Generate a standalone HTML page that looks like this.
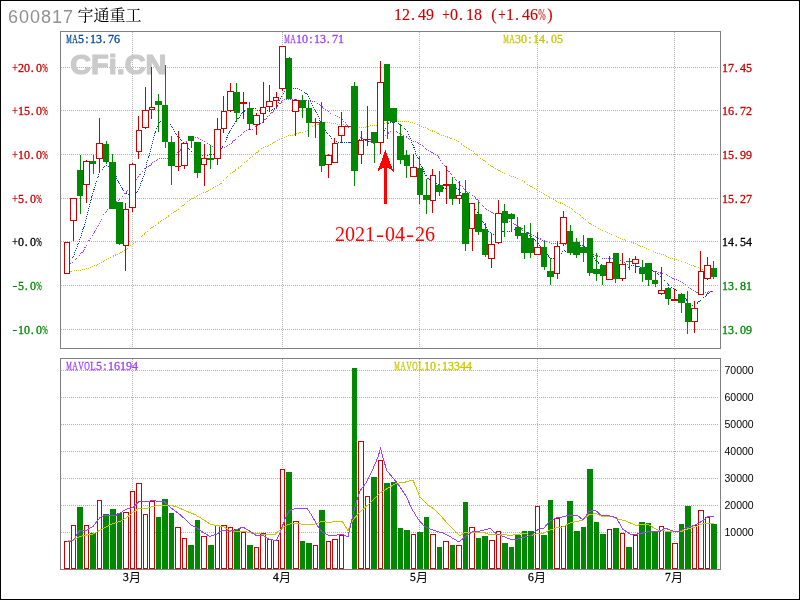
<!DOCTYPE html>
<html><head><meta charset="utf-8"><title>600817 宇通重工</title>
<style>
html,body{margin:0;padding:0;background:#fff}
#c{position:relative;width:800px;height:600px;box-sizing:border-box;overflow:hidden;background:#fff}
#b{position:absolute;left:0;top:0;width:798px;height:598px;border:1px solid #000;pointer-events:none}
svg{display:block}
</style></head><body><div id="c">
<svg width="800" height="600" viewBox="0 0 800 600" shape-rendering="crispEdges" style="position:absolute;left:0;top:0">
<path d="M61 67.5H718" stroke="#b0b0b0" stroke-width="1" stroke-dasharray="1 1" fill="none"/>
<path d="M61 110.5H718" stroke="#b0b0b0" stroke-width="1" stroke-dasharray="1 1" fill="none"/>
<path d="M61 154.5H718" stroke="#b0b0b0" stroke-width="1" stroke-dasharray="1 1" fill="none"/>
<path d="M61 198.5H718" stroke="#b0b0b0" stroke-width="1" stroke-dasharray="1 1" fill="none"/>
<path d="M61 241.5H718" stroke="#b0b0b0" stroke-width="1" stroke-dasharray="1 1" fill="none"/>
<path d="M61 285.5H718" stroke="#b0b0b0" stroke-width="1" stroke-dasharray="1 1" fill="none"/>
<path d="M61 329.5H718" stroke="#b0b0b0" stroke-width="1" stroke-dasharray="1 1" fill="none"/>
<path d="M132.5 32V348" stroke="#b0b0b0" stroke-width="1" stroke-dasharray="1 1" fill="none"/>
<path d="M282.5 32V348" stroke="#b0b0b0" stroke-width="1" stroke-dasharray="1 1" fill="none"/>
<path d="M419.5 32V348" stroke="#b0b0b0" stroke-width="1" stroke-dasharray="1 1" fill="none"/>
<path d="M537.5 32V348" stroke="#b0b0b0" stroke-width="1" stroke-dasharray="1 1" fill="none"/>
<path d="M674.5 32V348" stroke="#b0b0b0" stroke-width="1" stroke-dasharray="1 1" fill="none"/>
<path d="M61 370.5H718" stroke="#b0b0b0" stroke-width="1" stroke-dasharray="1 1" fill="none"/>
<path d="M61 397.5H718" stroke="#b0b0b0" stroke-width="1" stroke-dasharray="1 1" fill="none"/>
<path d="M61 424.5H718" stroke="#b0b0b0" stroke-width="1" stroke-dasharray="1 1" fill="none"/>
<path d="M61 451.5H718" stroke="#b0b0b0" stroke-width="1" stroke-dasharray="1 1" fill="none"/>
<path d="M61 478.5H718" stroke="#b0b0b0" stroke-width="1" stroke-dasharray="1 1" fill="none"/>
<path d="M61 505.5H718" stroke="#b0b0b0" stroke-width="1" stroke-dasharray="1 1" fill="none"/>
<path d="M61 532.5H718" stroke="#b0b0b0" stroke-width="1" stroke-dasharray="1 1" fill="none"/>
<path d="M132.5 359V569" stroke="#b0b0b0" stroke-width="1" stroke-dasharray="1 1" fill="none"/>
<path d="M282.5 359V569" stroke="#b0b0b0" stroke-width="1" stroke-dasharray="1 1" fill="none"/>
<path d="M419.5 359V569" stroke="#b0b0b0" stroke-width="1" stroke-dasharray="1 1" fill="none"/>
<path d="M537.5 359V569" stroke="#b0b0b0" stroke-width="1" stroke-dasharray="1 1" fill="none"/>
<path d="M674.5 359V569" stroke="#b0b0b0" stroke-width="1" stroke-dasharray="1 1" fill="none"/>
<text x="70.2" y="74.4" font-family="&quot;Liberation Sans&quot;,sans-serif" font-weight="bold" font-size="27" textLength="96.3" lengthAdjust="spacingAndGlyphs" fill="#cacaca" stroke="#cacaca" stroke-width="1.2" stroke-linejoin="round">CFi.CN</text>
<path d="M70.50 271.50 L74.00 270.80 L77.00 270.50 L80.00 270.50 L83.50 269.50 L87.00 268.80 L90.50 267.50 L93.00 266.50 L95.50 265.50 L99.50 263.50 L103.00 261.50 L106.00 260.00 L108.50 258.50 L111.00 257.50 L114.50 255.50 L116.50 254.50 L119.00 253.50 L121.50 252.00 L124.00 250.80 L127.50 248.50 L132.50 244.00 L135.00 242.50 L138.50 239.50 L140.50 237.50 L150.00 229.00 L160.00 222.00 L170.00 215.00 L180.00 208.00 L190.00 200.00 L200.00 194.40 L210.00 190.00 L220.00 184.40 L230.00 173.75 L233.10 172.25 L236.25 169.40 L239.40 167.50 L246.00 161.50 L254.00 155.00 L261.25 148.75 L265.00 146.90 L268.10 146.25 L272.50 143.10 L276.25 141.25 L281.25 138.75 L285.00 136.90 L288.75 135.60 L293.10 135.00 L300.00 132.75 L305.00 131.90 L308.75 129.40 L312.50 126.90 L317.50 124.40 L322.00 122.50 L330.00 123.00 L336.00 124.00 L342.50 124.40 L347.50 125.60 L353.00 127.00 L358.75 127.75 L363.75 127.50 L369.40 126.25 L372.50 125.40 L376.25 125.40 L386.00 123.00 L397.50 121.60 L402.50 121.25 L407.50 121.50 L412.50 122.50 L416.25 124.00 L420.00 125.60 L425.00 127.75 L430.00 130.00 L433.75 131.50 L439.40 134.40 L443.10 135.60 L446.25 136.50 L451.25 138.50 L456.25 140.25 L461.25 143.75 L465.00 146.50 L471.90 150.60 L476.25 154.40 L481.25 158.75 L485.60 161.50 L488.75 164.40 L493.75 167.25 L500.60 171.50 L505.00 173.50 L510.00 176.00 L513.75 176.90 L517.00 178.00 L524.00 181.60 L530.00 185.60 L537.00 190.00 L539.40 191.50 L545.00 194.40 L550.00 198.10 L555.00 200.60 L559.40 202.50 L563.75 204.40 L565.00 205.60 L570.00 208.10 L573.75 210.60 L578.10 214.00 L583.75 218.10 L588.10 221.90 L591.25 224.40 L595.60 226.25 L598.75 228.10 L603.75 231.00 L608.75 233.50 L613.10 235.00 L616.25 236.50 L621.25 238.50 L626.25 240.90 L630.00 241.90 L635.00 243.50 L638.75 245.25 L643.75 247.50 L648.75 249.40 L653.75 251.90 L658.75 253.50 L663.75 254.75 L668.10 256.90 L671.25 258.50 L675.00 259.40 L680.00 261.00 L683.75 261.90 L687.50 263.50 L691.25 265.00 L695.00 266.60 L698.75 267.50 L703.10 269.60 L709.00 271.00 L715.00 272.00" stroke="#c8c800" stroke-width="1" stroke-dasharray="1 1" fill="none"/>
<path d="M70.00 263.50 L73.50 261.50 L76.00 259.00 L78.50 256.50 L81.00 253.50 L83.00 251.50 L84.50 248.50 L86.50 245.00 L88.50 241.50 L91.00 237.00 L93.50 233.50 L96.50 228.50 L97.50 226.50 L104.00 214.00 L110.00 207.00 L118.00 201.00 L120.00 198.75 L123.75 195.00 L128.00 190.00 L132.00 185.00 L136.25 180.00 L141.25 172.50 L145.60 168.10 L148.10 167.50 L152.50 163.10 L156.25 160.60 L158.75 158.40 L166.90 158.40 L172.00 157.00 L175.60 155.60 L177.50 153.10 L180.60 150.00 L184.00 145.50 L187.25 141.25 L191.00 139.00 L195.00 137.10 L198.10 138.10 L201.90 140.00 L205.00 141.25 L208.10 143.75 L213.75 146.90 L218.00 148.30 L221.90 148.10 L226.25 146.50 L231.25 143.10 L237.50 137.50 L243.75 132.50 L247.50 130.00 L251.90 129.40 L256.00 126.50 L261.25 123.10 L266.25 118.10 L272.50 111.90 L276.25 108.10 L279.40 104.40 L282.50 100.60 L285.00 99.60 L291.25 99.60 L298.00 100.00 L306.25 100.60 L311.25 101.50 L315.60 101.50 L319.40 104.40 L323.75 108.10 L330.00 113.00 L336.00 116.00 L341.00 118.00 L345.00 122.50 L349.00 128.00 L355.00 133.00 L358.75 137.00 L365.60 140.00 L369.00 141.50 L373.50 143.00 L381.00 139.00 L388.00 133.40 L392.00 131.00 L397.50 132.00 L402.50 134.75 L405.00 136.00 L408.75 138.50 L412.50 141.00 L416.25 141.90 L420.00 144.00 L423.75 146.90 L428.75 150.60 L433.75 153.75 L436.90 155.25 L440.00 158.75 L442.50 163.10 L445.00 166.25 L448.10 170.60 L451.90 175.00 L455.60 179.40 L461.25 185.60 L467.50 192.50 L469.40 192.75 L473.10 195.60 L476.90 199.40 L481.25 204.40 L485.00 208.10 L488.75 210.60 L493.75 213.75 L500.00 217.00 L508.75 221.25 L513.10 223.10 L515.00 224.40 L520.00 227.10 L522.50 230.60 L527.50 232.50 L531.25 234.40 L536.25 236.90 L540.00 238.75 L543.75 240.90 L546.25 241.25 L550.00 243.10 L553.75 243.75 L559.40 243.75 L566.00 244.50 L575.00 247.00 L584.00 251.00 L593.75 255.00 L595.60 255.25 L598.75 256.50 L601.25 258.10 L605.00 258.50 L611.25 258.50 L616.00 259.30 L620.00 260.00 L621.90 260.60 L626.50 263.75 L630.60 265.30 L634.40 265.80 L638.10 266.50 L641.25 267.40 L644.40 267.50 L650.00 269.50 L655.00 271.60 L658.75 272.50 L663.10 273.75 L667.50 275.40 L672.50 278.10 L676.90 280.00 L681.25 281.50 L684.40 284.00 L687.50 286.50 L691.25 289.00 L694.40 291.00 L697.50 292.50 L705.00 292.50 L708.10 291.90 L711.25 291.25 L713.75 291.25" stroke="#a040ff" stroke-width="1" stroke-dasharray="1 1" fill="none"/>
<path d="M72.50 258.50 L74.00 255.00 L75.50 251.00 L76.50 248.50 L78.50 243.00 L80.50 237.50 L81.50 235.00 L82.50 230.00 L84.50 225.50 L91.25 198.75 L93.00 193.00 L95.00 186.00 L97.50 178.75 L99.40 173.00 L102.50 169.40 L105.60 165.60 L108.00 166.00 L112.80 167.50 L116.25 177.00 L118.75 182.50 L121.25 187.00 L124.40 191.25 L127.50 194.40 L132.50 196.00 L136.50 193.50 L138.75 189.40 L141.25 182.50 L144.40 175.00 L146.90 162.50 L149.40 154.40 L151.90 145.00 L153.75 136.90 L156.25 129.40 L157.90 126.25 L160.60 121.50 L165.00 119.50 L169.60 123.40 L172.50 127.50 L175.60 132.75 L177.50 136.25 L179.60 138.10 L185.00 144.00 L190.60 150.60 L197.00 154.00 L203.75 156.25 L206.25 155.00 L208.75 155.00 L213.10 154.40 L218.00 152.00 L221.90 148.10 L225.00 143.10 L227.50 136.25 L230.00 131.25 L232.50 126.90 L235.60 121.25 L239.40 116.90 L241.90 113.10 L245.00 110.60 L250.00 108.50 L254.40 108.10 L258.10 110.60 L264.00 111.00 L271.90 110.00 L275.60 108.50 L277.50 105.60 L279.40 100.60 L281.25 96.25 L283.75 92.50 L285.00 91.25 L289.00 89.00 L293.10 88.10 L296.25 88.10 L300.00 89.40 L303.75 91.25 L307.50 95.00 L310.00 99.40 L312.50 105.00 L315.00 109.40 L318.10 116.25 L320.60 121.90 L324.00 129.00 L328.00 134.00 L334.00 141.00 L340.00 142.60 L343.00 142.00 L349.00 143.00 L355.00 141.00 L358.75 139.00 L365.60 140.25 L373.75 143.00 L381.00 138.00 L385.60 128.00 L386.50 126.00 L389.40 123.00 L394.00 122.50 L397.50 123.50 L401.00 125.00 L405.25 129.00 L407.00 131.00 L408.75 135.00 L410.60 139.40 L412.50 143.75 L414.75 149.40 L416.25 154.40 L418.00 157.50 L420.60 164.40 L423.10 169.40 L425.00 173.75 L427.50 178.10 L431.00 181.00 L436.25 183.10 L440.00 186.00 L444.40 188.50 L448.10 189.40 L454.00 188.50 L458.10 188.50 L461.25 193.10 L464.00 197.00 L470.00 204.00 L475.60 210.00 L477.50 213.10 L482.50 221.25 L484.40 223.75 L486.25 226.90 L488.75 231.25 L491.25 234.00 L493.75 234.40 L498.00 233.00 L502.50 231.25 L505.00 233.50 L508.10 231.25 L511.25 231.25 L513.75 229.40 L518.00 228.50 L523.75 228.75 L525.60 230.60 L528.10 233.10 L530.00 235.60 L535.60 240.40 L538.10 243.50 L544.00 251.00 L549.40 257.25 L550.25 258.75 L555.00 258.00 L561.25 253.50 L562.75 251.25 L564.40 250.25 L566.25 251.50 L572.00 249.00 L581.25 245.25 L588.00 249.00 L594.40 257.50 L595.60 260.00 L598.75 263.50 L604.00 266.00 L612.00 268.00 L620.00 269.50 L626.25 269.60 L630.60 265.00 L634.40 265.60 L637.50 266.90 L644.40 267.25 L650.00 269.00 L654.60 271.90 L658.10 274.00 L664.75 280.60 L666.90 283.10 L668.75 285.25 L671.25 287.10 L675.00 289.40 L678.75 292.50 L682.50 294.40 L685.60 298.75 L687.50 301.25 L690.00 304.00 L693.10 305.60 L695.00 304.75 L697.50 302.90 L700.60 300.40 L703.75 297.75 L706.90 294.40 L710.00 291.90 L712.50 291.25" stroke="#0046a0" stroke-width="1" stroke-dasharray="1 1" fill="none"/>
<rect x="64.5" y="242.5" width="5" height="31" fill="#fff" stroke="#cc0000" stroke-width="1"/>
<rect x="73" y="221" width="1" height="20" fill="#cc0000"/>
<rect x="70.5" y="198.5" width="6" height="22" fill="#fff" stroke="#cc0000" stroke-width="1"/>
<rect x="80" y="155" width="1" height="15" fill="#008800"/>
<rect x="80" y="196" width="1" height="18" fill="#008800"/>
<rect x="77" y="170" width="6" height="26" fill="#008800"/>
<rect x="86" y="160" width="1" height="1" fill="#cc0000"/>
<rect x="86" y="185" width="1" height="18" fill="#cc0000"/>
<rect x="83.5" y="161.5" width="6" height="23" fill="#fff" stroke="#cc0000" stroke-width="1"/>
<rect x="93" y="155" width="1" height="6" fill="#008800"/>
<rect x="93" y="164" width="1" height="10" fill="#008800"/>
<rect x="90" y="161" width="6" height="3" fill="#008800"/>
<rect x="99" y="118" width="1" height="25" fill="#cc0000"/>
<rect x="99" y="159" width="1" height="14" fill="#cc0000"/>
<rect x="96.5" y="143.5" width="6" height="15" fill="#fff" stroke="#cc0000" stroke-width="1"/>
<rect x="106" y="141" width="1" height="3" fill="#008800"/>
<rect x="106" y="162" width="1" height="2" fill="#008800"/>
<rect x="103" y="144" width="6" height="18" fill="#008800"/>
<rect x="112" y="154" width="1" height="8" fill="#008800"/>
<rect x="109" y="162" width="7" height="47" fill="#008800"/>
<rect x="119" y="244" width="1" height="1" fill="#008800"/>
<rect x="116" y="202" width="7" height="42" fill="#008800"/>
<rect x="125" y="203" width="1" height="6" fill="#cc0000"/>
<rect x="125" y="246" width="1" height="25" fill="#cc0000"/>
<rect x="123.5" y="209.5" width="5" height="36" fill="#fff" stroke="#cc0000" stroke-width="1"/>
<rect x="132" y="163" width="1" height="1" fill="#cc0000"/>
<rect x="132" y="208" width="1" height="4" fill="#cc0000"/>
<rect x="129.5" y="164.5" width="6" height="43" fill="#fff" stroke="#cc0000" stroke-width="1"/>
<rect x="138" y="116" width="1" height="14" fill="#cc0000"/>
<rect x="138" y="152" width="1" height="7" fill="#cc0000"/>
<rect x="136.5" y="130.5" width="5" height="21" fill="#fff" stroke="#cc0000" stroke-width="1"/>
<rect x="145" y="87" width="1" height="23" fill="#cc0000"/>
<rect x="145" y="128" width="1" height="1" fill="#cc0000"/>
<rect x="142.5" y="110.5" width="6" height="17" fill="#fff" stroke="#cc0000" stroke-width="1"/>
<rect x="151" y="67" width="1" height="40" fill="#cc0000"/>
<rect x="151" y="110" width="1" height="9" fill="#cc0000"/>
<rect x="149.5" y="107.5" width="5" height="2" fill="#fff" stroke="#cc0000" stroke-width="1"/>
<rect x="158" y="94" width="1" height="7" fill="#008800"/>
<rect x="158" y="105" width="1" height="27" fill="#008800"/>
<rect x="155" y="101" width="7" height="4" fill="#008800"/>
<rect x="165" y="65" width="1" height="40" fill="#008800"/>
<rect x="165" y="142" width="1" height="6" fill="#008800"/>
<rect x="162" y="105" width="6" height="37" fill="#008800"/>
<rect x="171" y="136" width="1" height="6" fill="#008800"/>
<rect x="171" y="166" width="1" height="19" fill="#008800"/>
<rect x="168" y="142" width="7" height="24" fill="#008800"/>
<rect x="178" y="131" width="1" height="35" fill="#cc0000"/>
<rect x="178" y="167" width="1" height="4" fill="#cc0000"/>
<rect x="175" y="166" width="6" height="1" fill="#cc0000"/>
<rect x="184" y="166" width="1" height="3" fill="#cc0000"/>
<rect x="181.5" y="143.5" width="6" height="22" fill="#fff" stroke="#cc0000" stroke-width="1"/>
<rect x="191" y="141" width="1" height="7" fill="#008800"/>
<rect x="188" y="136" width="6" height="5" fill="#008800"/>
<rect x="197" y="173" width="1" height="5" fill="#008800"/>
<rect x="194" y="142" width="7" height="31" fill="#008800"/>
<rect x="204" y="144" width="1" height="14" fill="#cc0000"/>
<rect x="204" y="165" width="1" height="21" fill="#cc0000"/>
<rect x="201.5" y="158.5" width="5" height="6" fill="#fff" stroke="#cc0000" stroke-width="1"/>
<rect x="210" y="145" width="1" height="13" fill="#008800"/>
<rect x="210" y="160" width="1" height="9" fill="#008800"/>
<rect x="207" y="158" width="7" height="2" fill="#008800"/>
<rect x="217" y="118" width="1" height="11" fill="#cc0000"/>
<rect x="217" y="159" width="1" height="6" fill="#cc0000"/>
<rect x="214.5" y="129.5" width="6" height="29" fill="#fff" stroke="#cc0000" stroke-width="1"/>
<rect x="223" y="96" width="1" height="15" fill="#cc0000"/>
<rect x="223" y="129" width="1" height="4" fill="#cc0000"/>
<rect x="221.5" y="111.5" width="5" height="17" fill="#fff" stroke="#cc0000" stroke-width="1"/>
<rect x="230" y="83" width="1" height="8" fill="#cc0000"/>
<rect x="230" y="111" width="1" height="1" fill="#cc0000"/>
<rect x="227.5" y="91.5" width="6" height="19" fill="#fff" stroke="#cc0000" stroke-width="1"/>
<rect x="236" y="83" width="1" height="9" fill="#008800"/>
<rect x="236" y="113" width="1" height="9" fill="#008800"/>
<rect x="234" y="92" width="6" height="21" fill="#008800"/>
<rect x="243" y="92" width="1" height="10" fill="#cc0000"/>
<rect x="243" y="104" width="1" height="15" fill="#cc0000"/>
<rect x="240" y="102" width="7" height="2" fill="#cc0000"/>
<rect x="249" y="102" width="1" height="6" fill="#008800"/>
<rect x="249" y="124" width="1" height="6" fill="#008800"/>
<rect x="247" y="108" width="6" height="16" fill="#008800"/>
<rect x="256" y="113" width="1" height="2" fill="#cc0000"/>
<rect x="256" y="125" width="1" height="10" fill="#cc0000"/>
<rect x="253.5" y="115.5" width="6" height="9" fill="#fff" stroke="#cc0000" stroke-width="1"/>
<rect x="263" y="82" width="1" height="25" fill="#cc0000"/>
<rect x="263" y="114" width="1" height="9" fill="#cc0000"/>
<rect x="260.5" y="107.5" width="5" height="6" fill="#fff" stroke="#cc0000" stroke-width="1"/>
<rect x="269" y="85" width="1" height="16" fill="#cc0000"/>
<rect x="269" y="107" width="1" height="5" fill="#cc0000"/>
<rect x="266.5" y="101.5" width="6" height="5" fill="#fff" stroke="#cc0000" stroke-width="1"/>
<rect x="276" y="92" width="1" height="5" fill="#cc0000"/>
<rect x="276" y="101" width="1" height="6" fill="#cc0000"/>
<rect x="273.5" y="97.5" width="5" height="3" fill="#fff" stroke="#cc0000" stroke-width="1"/>
<rect x="282" y="89" width="1" height="2" fill="#cc0000"/>
<rect x="279.5" y="46.5" width="6" height="42" fill="#fff" stroke="#cc0000" stroke-width="1"/>
<rect x="289" y="57" width="1" height="1" fill="#008800"/>
<rect x="286" y="58" width="6" height="41" fill="#008800"/>
<rect x="295" y="99" width="1" height="1" fill="#cc0000"/>
<rect x="295" y="112" width="1" height="24" fill="#cc0000"/>
<rect x="292.5" y="100.5" width="6" height="11" fill="#fff" stroke="#cc0000" stroke-width="1"/>
<rect x="302" y="95" width="1" height="5" fill="#008800"/>
<rect x="302" y="108" width="1" height="10" fill="#008800"/>
<rect x="299" y="100" width="7" height="8" fill="#008800"/>
<rect x="308" y="100" width="1" height="8" fill="#008800"/>
<rect x="308" y="123" width="1" height="14" fill="#008800"/>
<rect x="306" y="108" width="6" height="15" fill="#008800"/>
<rect x="315" y="118" width="1" height="4" fill="#cc0000"/>
<rect x="315" y="123" width="1" height="15" fill="#cc0000"/>
<rect x="312" y="122" width="7" height="1" fill="#cc0000"/>
<rect x="321" y="102" width="1" height="20" fill="#008800"/>
<rect x="321" y="166" width="1" height="6" fill="#008800"/>
<rect x="319" y="122" width="6" height="44" fill="#008800"/>
<rect x="328" y="154" width="1" height="1" fill="#cc0000"/>
<rect x="328" y="165" width="1" height="13" fill="#cc0000"/>
<rect x="325.5" y="155.5" width="6" height="9" fill="#fff" stroke="#cc0000" stroke-width="1"/>
<rect x="334" y="138" width="1" height="5" fill="#cc0000"/>
<rect x="332.5" y="143.5" width="5" height="19" fill="#fff" stroke="#cc0000" stroke-width="1"/>
<rect x="341" y="112" width="1" height="14" fill="#cc0000"/>
<rect x="341" y="136" width="1" height="7" fill="#cc0000"/>
<rect x="338.5" y="126.5" width="6" height="9" fill="#fff" stroke="#cc0000" stroke-width="1"/>
<rect x="345" y="126" width="6" height="1" fill="#cc0000"/>
<rect x="354" y="82" width="1" height="4" fill="#008800"/>
<rect x="354" y="171" width="1" height="15" fill="#008800"/>
<rect x="351" y="86" width="7" height="85" fill="#008800"/>
<rect x="361" y="131" width="1" height="9" fill="#cc0000"/>
<rect x="361" y="155" width="1" height="9" fill="#cc0000"/>
<rect x="358.5" y="140.5" width="5" height="14" fill="#fff" stroke="#cc0000" stroke-width="1"/>
<rect x="367" y="106" width="1" height="33" fill="#cc0000"/>
<rect x="367" y="140" width="1" height="6" fill="#cc0000"/>
<rect x="364" y="139" width="7" height="1" fill="#cc0000"/>
<rect x="374" y="143" width="1" height="20" fill="#008800"/>
<rect x="371" y="132" width="6" height="11" fill="#008800"/>
<rect x="380" y="61" width="1" height="21" fill="#cc0000"/>
<rect x="380" y="143" width="1" height="11" fill="#cc0000"/>
<rect x="377.5" y="82.5" width="6" height="60" fill="#fff" stroke="#cc0000" stroke-width="1"/>
<rect x="387" y="121" width="1" height="18" fill="#008800"/>
<rect x="384" y="64" width="6" height="57" fill="#008800"/>
<rect x="393" y="122" width="1" height="50" fill="#008800"/>
<rect x="390" y="108" width="7" height="14" fill="#008800"/>
<rect x="400" y="124" width="1" height="12" fill="#008800"/>
<rect x="400" y="160" width="1" height="4" fill="#008800"/>
<rect x="397" y="136" width="7" height="24" fill="#008800"/>
<rect x="406" y="150" width="1" height="5" fill="#008800"/>
<rect x="406" y="166" width="1" height="12" fill="#008800"/>
<rect x="404" y="155" width="6" height="11" fill="#008800"/>
<rect x="413" y="154" width="1" height="13" fill="#cc0000"/>
<rect x="410.5" y="167.5" width="6" height="9" fill="#fff" stroke="#cc0000" stroke-width="1"/>
<rect x="419" y="156" width="1" height="12" fill="#008800"/>
<rect x="419" y="195" width="1" height="9" fill="#008800"/>
<rect x="417" y="168" width="6" height="27" fill="#008800"/>
<rect x="426" y="179" width="1" height="16" fill="#008800"/>
<rect x="426" y="200" width="1" height="14" fill="#008800"/>
<rect x="423" y="195" width="7" height="5" fill="#008800"/>
<rect x="432" y="169" width="1" height="6" fill="#cc0000"/>
<rect x="432" y="201" width="1" height="12" fill="#cc0000"/>
<rect x="430.5" y="175.5" width="5" height="25" fill="#fff" stroke="#cc0000" stroke-width="1"/>
<rect x="439" y="171" width="1" height="14" fill="#008800"/>
<rect x="439" y="192" width="1" height="4" fill="#008800"/>
<rect x="436" y="185" width="7" height="7" fill="#008800"/>
<rect x="446" y="166" width="1" height="18" fill="#cc0000"/>
<rect x="446" y="186" width="1" height="18" fill="#cc0000"/>
<rect x="443" y="184" width="6" height="2" fill="#cc0000"/>
<rect x="452" y="177" width="1" height="7" fill="#008800"/>
<rect x="452" y="199" width="1" height="6" fill="#008800"/>
<rect x="449" y="184" width="7" height="15" fill="#008800"/>
<rect x="459" y="181" width="1" height="14" fill="#cc0000"/>
<rect x="459" y="199" width="1" height="5" fill="#cc0000"/>
<rect x="456.5" y="195.5" width="5" height="3" fill="#fff" stroke="#cc0000" stroke-width="1"/>
<rect x="465" y="180" width="1" height="13" fill="#008800"/>
<rect x="465" y="244" width="1" height="7" fill="#008800"/>
<rect x="462" y="193" width="7" height="51" fill="#008800"/>
<rect x="472" y="229" width="1" height="22" fill="#cc0000"/>
<rect x="469.5" y="203.5" width="5" height="25" fill="#fff" stroke="#cc0000" stroke-width="1"/>
<rect x="478" y="202" width="1" height="12" fill="#008800"/>
<rect x="478" y="232" width="1" height="3" fill="#008800"/>
<rect x="475" y="214" width="7" height="18" fill="#008800"/>
<rect x="485" y="223" width="1" height="6" fill="#008800"/>
<rect x="485" y="255" width="1" height="2" fill="#008800"/>
<rect x="482" y="229" width="6" height="26" fill="#008800"/>
<rect x="491" y="233" width="1" height="11" fill="#cc0000"/>
<rect x="491" y="259" width="1" height="9" fill="#cc0000"/>
<rect x="488.5" y="244.5" width="6" height="14" fill="#fff" stroke="#cc0000" stroke-width="1"/>
<rect x="498" y="200" width="1" height="13" fill="#cc0000"/>
<rect x="498" y="243" width="1" height="1" fill="#cc0000"/>
<rect x="495.5" y="213.5" width="6" height="29" fill="#fff" stroke="#cc0000" stroke-width="1"/>
<rect x="504" y="204" width="1" height="7" fill="#008800"/>
<rect x="504" y="223" width="1" height="14" fill="#008800"/>
<rect x="502" y="211" width="6" height="12" fill="#008800"/>
<rect x="511" y="213" width="1" height="1" fill="#008800"/>
<rect x="511" y="219" width="1" height="12" fill="#008800"/>
<rect x="508" y="214" width="7" height="5" fill="#008800"/>
<rect x="517" y="217" width="1" height="10" fill="#008800"/>
<rect x="517" y="236" width="1" height="3" fill="#008800"/>
<rect x="515" y="227" width="6" height="9" fill="#008800"/>
<rect x="524" y="225" width="1" height="8" fill="#008800"/>
<rect x="524" y="253" width="1" height="6" fill="#008800"/>
<rect x="521" y="233" width="7" height="20" fill="#008800"/>
<rect x="530" y="223" width="1" height="15" fill="#008800"/>
<rect x="530" y="253" width="1" height="5" fill="#008800"/>
<rect x="528" y="238" width="6" height="15" fill="#008800"/>
<rect x="537" y="232" width="1" height="15" fill="#cc0000"/>
<rect x="534.5" y="247.5" width="6" height="7" fill="#fff" stroke="#cc0000" stroke-width="1"/>
<rect x="544" y="241" width="1" height="6" fill="#008800"/>
<rect x="544" y="267" width="1" height="3" fill="#008800"/>
<rect x="541" y="247" width="6" height="20" fill="#008800"/>
<rect x="550" y="258" width="1" height="13" fill="#008800"/>
<rect x="550" y="277" width="1" height="8" fill="#008800"/>
<rect x="547" y="271" width="7" height="6" fill="#008800"/>
<rect x="557" y="241" width="1" height="5" fill="#cc0000"/>
<rect x="557" y="274" width="1" height="5" fill="#cc0000"/>
<rect x="554.5" y="246.5" width="5" height="27" fill="#fff" stroke="#cc0000" stroke-width="1"/>
<rect x="563" y="211" width="1" height="6" fill="#cc0000"/>
<rect x="563" y="244" width="1" height="2" fill="#cc0000"/>
<rect x="560.5" y="217.5" width="6" height="26" fill="#fff" stroke="#cc0000" stroke-width="1"/>
<rect x="570" y="225" width="1" height="6" fill="#008800"/>
<rect x="570" y="253" width="1" height="2" fill="#008800"/>
<rect x="567" y="231" width="6" height="22" fill="#008800"/>
<rect x="576" y="238" width="1" height="4" fill="#008800"/>
<rect x="576" y="255" width="1" height="3" fill="#008800"/>
<rect x="573" y="242" width="7" height="13" fill="#008800"/>
<rect x="583" y="235" width="1" height="12" fill="#008800"/>
<rect x="583" y="253" width="1" height="9" fill="#008800"/>
<rect x="580" y="247" width="7" height="6" fill="#008800"/>
<rect x="589" y="273" width="1" height="3" fill="#008800"/>
<rect x="587" y="238" width="6" height="35" fill="#008800"/>
<rect x="596" y="253" width="1" height="16" fill="#008800"/>
<rect x="596" y="274" width="1" height="7" fill="#008800"/>
<rect x="593" y="269" width="7" height="5" fill="#008800"/>
<rect x="602" y="276" width="1" height="9" fill="#008800"/>
<rect x="600" y="265" width="6" height="11" fill="#008800"/>
<rect x="609" y="256" width="1" height="6" fill="#cc0000"/>
<rect x="606.5" y="262.5" width="6" height="17" fill="#fff" stroke="#cc0000" stroke-width="1"/>
<rect x="615" y="279" width="1" height="4" fill="#008800"/>
<rect x="613" y="253" width="6" height="26" fill="#008800"/>
<rect x="622" y="253" width="1" height="11" fill="#cc0000"/>
<rect x="622" y="279" width="1" height="2" fill="#cc0000"/>
<rect x="619.5" y="264.5" width="6" height="14" fill="#fff" stroke="#cc0000" stroke-width="1"/>
<rect x="629" y="258" width="1" height="3" fill="#008800"/>
<rect x="629" y="262" width="1" height="8" fill="#008800"/>
<rect x="626" y="261" width="6" height="1" fill="#008800"/>
<rect x="635" y="256" width="1" height="3" fill="#cc0000"/>
<rect x="635" y="264" width="1" height="9" fill="#cc0000"/>
<rect x="632.5" y="259.5" width="6" height="4" fill="#fff" stroke="#cc0000" stroke-width="1"/>
<rect x="642" y="260" width="1" height="8" fill="#008800"/>
<rect x="642" y="274" width="1" height="8" fill="#008800"/>
<rect x="639" y="268" width="6" height="6" fill="#008800"/>
<rect x="648" y="280" width="1" height="6" fill="#008800"/>
<rect x="645" y="263" width="7" height="17" fill="#008800"/>
<rect x="655" y="271" width="1" height="9" fill="#008800"/>
<rect x="655" y="284" width="1" height="3" fill="#008800"/>
<rect x="652" y="280" width="6" height="4" fill="#008800"/>
<rect x="661" y="267" width="1" height="23" fill="#cc0000"/>
<rect x="661" y="294" width="1" height="1" fill="#cc0000"/>
<rect x="658.5" y="290.5" width="6" height="3" fill="#fff" stroke="#cc0000" stroke-width="1"/>
<rect x="668" y="287" width="1" height="1" fill="#008800"/>
<rect x="668" y="299" width="1" height="6" fill="#008800"/>
<rect x="665" y="288" width="6" height="11" fill="#008800"/>
<rect x="674" y="289" width="1" height="10" fill="#cc0000"/>
<rect x="671" y="299" width="7" height="2" fill="#cc0000"/>
<rect x="681" y="293" width="1" height="1" fill="#008800"/>
<rect x="681" y="303" width="1" height="10" fill="#008800"/>
<rect x="678" y="294" width="7" height="9" fill="#008800"/>
<rect x="687" y="291" width="1" height="12" fill="#008800"/>
<rect x="687" y="322" width="1" height="12" fill="#008800"/>
<rect x="685" y="303" width="6" height="19" fill="#008800"/>
<rect x="694" y="301" width="1" height="7" fill="#cc0000"/>
<rect x="694" y="322" width="1" height="11" fill="#cc0000"/>
<rect x="691.5" y="308.5" width="6" height="13" fill="#fff" stroke="#cc0000" stroke-width="1"/>
<rect x="700" y="251" width="1" height="20" fill="#cc0000"/>
<rect x="698.5" y="271.5" width="5" height="23" fill="#fff" stroke="#cc0000" stroke-width="1"/>
<rect x="707" y="257" width="1" height="8" fill="#cc0000"/>
<rect x="707" y="279" width="1" height="1" fill="#cc0000"/>
<rect x="704.5" y="265.5" width="6" height="13" fill="#fff" stroke="#cc0000" stroke-width="1"/>
<rect x="713" y="261" width="1" height="7" fill="#008800"/>
<rect x="713" y="277" width="1" height="2" fill="#008800"/>
<rect x="711" y="268" width="6" height="9" fill="#008800"/>
<path d="M385.5 149.5 L388 157 L393.4 171.2 L387 167.3 L387 204 L384 204 L384 167.3 L377.4 171.2 L383 157 Z" fill="#ff0000"/>
<rect x="64.5" y="541.5" width="5" height="27" fill="#fff" stroke="#cc0000" stroke-width="1"/>
<rect x="71.5" y="525.5" width="4" height="43" fill="#fff" stroke="#cc0000" stroke-width="1"/>
<rect x="77" y="507" width="6" height="62" fill="#008800"/>
<rect x="84.5" y="525.5" width="4" height="43" fill="#fff" stroke="#cc0000" stroke-width="1"/>
<rect x="90" y="533" width="6" height="36" fill="#008800"/>
<rect x="97.5" y="500.5" width="4" height="68" fill="#fff" stroke="#cc0000" stroke-width="1"/>
<rect x="103" y="514" width="6" height="55" fill="#008800"/>
<rect x="110" y="509" width="6" height="60" fill="#008800"/>
<rect x="117" y="513" width="5" height="56" fill="#008800"/>
<rect x="123.5" y="512.5" width="5" height="56" fill="#fff" stroke="#cc0000" stroke-width="1"/>
<rect x="130.5" y="491.5" width="4" height="77" fill="#fff" stroke="#cc0000" stroke-width="1"/>
<rect x="136.5" y="483.5" width="5" height="85" fill="#fff" stroke="#cc0000" stroke-width="1"/>
<rect x="143.5" y="514.5" width="4" height="54" fill="#fff" stroke="#cc0000" stroke-width="1"/>
<rect x="149.5" y="501.5" width="5" height="67" fill="#fff" stroke="#cc0000" stroke-width="1"/>
<rect x="156" y="517" width="5" height="52" fill="#008800"/>
<rect x="162" y="499" width="6" height="70" fill="#008800"/>
<rect x="169" y="513" width="5" height="56" fill="#008800"/>
<rect x="175.5" y="527.5" width="5" height="41" fill="#fff" stroke="#cc0000" stroke-width="1"/>
<rect x="182.5" y="538.5" width="4" height="30" fill="#fff" stroke="#cc0000" stroke-width="1"/>
<rect x="188" y="545" width="6" height="24" fill="#008800"/>
<rect x="195" y="520" width="5" height="49" fill="#008800"/>
<rect x="201.5" y="536.5" width="5" height="32" fill="#fff" stroke="#cc0000" stroke-width="1"/>
<rect x="208" y="545" width="6" height="24" fill="#008800"/>
<rect x="215.5" y="525.5" width="4" height="43" fill="#fff" stroke="#cc0000" stroke-width="1"/>
<rect x="221.5" y="525.5" width="5" height="43" fill="#fff" stroke="#cc0000" stroke-width="1"/>
<rect x="228.5" y="527.5" width="4" height="41" fill="#fff" stroke="#cc0000" stroke-width="1"/>
<rect x="234" y="529" width="6" height="40" fill="#008800"/>
<rect x="241.5" y="532.5" width="4" height="36" fill="#fff" stroke="#cc0000" stroke-width="1"/>
<rect x="247" y="545" width="6" height="24" fill="#008800"/>
<rect x="254.5" y="547.5" width="4" height="21" fill="#fff" stroke="#cc0000" stroke-width="1"/>
<rect x="260.5" y="533.5" width="5" height="35" fill="#fff" stroke="#cc0000" stroke-width="1"/>
<rect x="267.5" y="539.5" width="4" height="29" fill="#fff" stroke="#cc0000" stroke-width="1"/>
<rect x="273.5" y="540.5" width="5" height="28" fill="#fff" stroke="#cc0000" stroke-width="1"/>
<rect x="280.5" y="469.5" width="4" height="99" fill="#fff" stroke="#cc0000" stroke-width="1"/>
<rect x="286" y="472" width="6" height="97" fill="#008800"/>
<rect x="293.5" y="521.5" width="5" height="47" fill="#fff" stroke="#cc0000" stroke-width="1"/>
<rect x="300" y="541" width="5" height="28" fill="#008800"/>
<rect x="306" y="543" width="6" height="26" fill="#008800"/>
<rect x="313.5" y="545.5" width="4" height="23" fill="#fff" stroke="#cc0000" stroke-width="1"/>
<rect x="319" y="510" width="6" height="59" fill="#008800"/>
<rect x="326.5" y="541.5" width="4" height="27" fill="#fff" stroke="#cc0000" stroke-width="1"/>
<rect x="332.5" y="539.5" width="5" height="29" fill="#fff" stroke="#cc0000" stroke-width="1"/>
<rect x="339.5" y="535.5" width="4" height="33" fill="#fff" stroke="#cc0000" stroke-width="1"/>
<rect x="352" y="368" width="5" height="201" fill="#008800"/>
<rect x="358.5" y="441.5" width="5" height="127" fill="#fff" stroke="#cc0000" stroke-width="1"/>
<rect x="365.5" y="496.5" width="4" height="72" fill="#fff" stroke="#cc0000" stroke-width="1"/>
<rect x="371" y="477" width="6" height="92" fill="#008800"/>
<rect x="378.5" y="460.5" width="4" height="108" fill="#fff" stroke="#cc0000" stroke-width="1"/>
<rect x="384" y="483" width="6" height="86" fill="#008800"/>
<rect x="391" y="482" width="6" height="87" fill="#008800"/>
<rect x="398" y="528" width="5" height="41" fill="#008800"/>
<rect x="404" y="530" width="6" height="39" fill="#008800"/>
<rect x="411.5" y="534.5" width="4" height="34" fill="#fff" stroke="#cc0000" stroke-width="1"/>
<rect x="417" y="532" width="6" height="37" fill="#008800"/>
<rect x="424" y="517" width="5" height="52" fill="#008800"/>
<rect x="430.5" y="534.5" width="5" height="34" fill="#fff" stroke="#cc0000" stroke-width="1"/>
<rect x="437" y="547" width="5" height="22" fill="#008800"/>
<rect x="443.5" y="541.5" width="5" height="27" fill="#fff" stroke="#cc0000" stroke-width="1"/>
<rect x="450" y="545" width="5" height="24" fill="#008800"/>
<rect x="456.5" y="545.5" width="5" height="23" fill="#fff" stroke="#cc0000" stroke-width="1"/>
<rect x="463" y="502" width="5" height="67" fill="#008800"/>
<rect x="469.5" y="527.5" width="5" height="41" fill="#fff" stroke="#cc0000" stroke-width="1"/>
<rect x="476" y="538" width="5" height="31" fill="#008800"/>
<rect x="482" y="536" width="6" height="33" fill="#008800"/>
<rect x="489.5" y="540.5" width="5" height="28" fill="#fff" stroke="#cc0000" stroke-width="1"/>
<rect x="496.5" y="531.5" width="4" height="37" fill="#fff" stroke="#cc0000" stroke-width="1"/>
<rect x="502" y="543" width="6" height="26" fill="#008800"/>
<rect x="509" y="547" width="5" height="22" fill="#008800"/>
<rect x="515" y="535" width="6" height="34" fill="#008800"/>
<rect x="522" y="531" width="5" height="38" fill="#008800"/>
<rect x="528" y="531" width="6" height="38" fill="#008800"/>
<rect x="535.5" y="506.5" width="4" height="62" fill="#fff" stroke="#cc0000" stroke-width="1"/>
<rect x="541" y="535" width="6" height="34" fill="#008800"/>
<rect x="548" y="500" width="5" height="69" fill="#008800"/>
<rect x="554.5" y="518.5" width="5" height="50" fill="#fff" stroke="#cc0000" stroke-width="1"/>
<rect x="561.5" y="526.5" width="4" height="42" fill="#fff" stroke="#cc0000" stroke-width="1"/>
<rect x="567" y="501" width="6" height="68" fill="#008800"/>
<rect x="574" y="531" width="6" height="38" fill="#008800"/>
<rect x="581" y="527" width="5" height="42" fill="#008800"/>
<rect x="587" y="469" width="6" height="100" fill="#008800"/>
<rect x="594" y="522" width="5" height="47" fill="#008800"/>
<rect x="600" y="534" width="6" height="35" fill="#008800"/>
<rect x="607.5" y="529.5" width="4" height="39" fill="#fff" stroke="#cc0000" stroke-width="1"/>
<rect x="613" y="528" width="6" height="41" fill="#008800"/>
<rect x="620.5" y="533.5" width="4" height="35" fill="#fff" stroke="#cc0000" stroke-width="1"/>
<rect x="626" y="547" width="6" height="22" fill="#008800"/>
<rect x="633.5" y="535.5" width="4" height="33" fill="#fff" stroke="#cc0000" stroke-width="1"/>
<rect x="639" y="522" width="6" height="47" fill="#008800"/>
<rect x="646" y="523" width="5" height="46" fill="#008800"/>
<rect x="652" y="531" width="6" height="38" fill="#008800"/>
<rect x="659.5" y="526.5" width="4" height="42" fill="#fff" stroke="#cc0000" stroke-width="1"/>
<rect x="665" y="531" width="6" height="38" fill="#008800"/>
<rect x="672.5" y="543.5" width="5" height="25" fill="#fff" stroke="#cc0000" stroke-width="1"/>
<rect x="679" y="524" width="5" height="45" fill="#008800"/>
<rect x="685" y="506" width="6" height="63" fill="#008800"/>
<rect x="692.5" y="525.5" width="4" height="43" fill="#fff" stroke="#cc0000" stroke-width="1"/>
<rect x="698.5" y="510.5" width="5" height="58" fill="#fff" stroke="#cc0000" stroke-width="1"/>
<rect x="705.5" y="517.5" width="4" height="51" fill="#fff" stroke="#cc0000" stroke-width="1"/>
<rect x="711" y="524" width="6" height="45" fill="#008800"/>
<path d="M67.5 540.5 L73.0 540.5 L80.0 536.5 L86.5 535.0 L93.0 534.0 L99.5 530.5 L106.0 526.8 L112.5 523.8 L120.0 521.5 L126.0 518.0 L130.0 515.0 L133.0 512.0 L139.0 508.6 L145.0 509.0 L152.0 506.6 L159.0 505.4 L171.0 505.4 L178.0 507.4 L185.0 510.6 L195.0 514.6 L204.0 520.0 L210.0 524.0 L217.0 525.6 L223.0 526.6 L230.0 530.6 L237.0 531.6 L245.0 531.6 L251.0 533.0 L257.0 533.6 L265.0 534.4 L275.0 534.4 L281.0 529.0 L287.0 525.0 L293.0 523.0 L301.0 524.0 L309.0 524.4 L315.0 524.0 L322.0 521.4 L329.0 522.4 L335.0 521.6 L342.0 521.0 L348.0 530.6 L353.0 520.0 L360.0 512.0 L370.0 503.0 L380.0 493.0 L388.0 488.0 L396.0 483.4 L404.0 482.4 L413.0 480.0 L420.0 497.0 L428.0 505.0 L434.0 509.0 L440.0 515.0 L448.0 524.0 L454.0 530.0 L459.6 535.6 L466.0 532.0 L472.0 532.4 L482.0 532.0 L490.0 534.6 L500.0 534.0 L510.0 535.4 L520.0 534.0 L526.0 533.6 L530.0 536.0 L538.0 533.4 L544.0 533.0 L550.0 530.0 L556.0 528.0 L564.0 526.6 L570.0 523.0 L577.0 521.4 L583.0 520.0 L589.0 514.6 L596.0 513.6 L602.0 516.6 L610.0 516.0 L618.0 519.0 L626.0 521.0 L636.0 525.4 L645.0 524.0 L649.0 525.0 L657.5 530.0 L665.0 531.0 L682.5 531.0 L687.5 529.0 L694.0 527.5 L700.0 524.5 L706.0 523.0 L714.0 523.8" stroke="#c8c800" stroke-width="1" fill="none" stroke-linejoin="round"/>
<path d="M67.5 542.0 L70.0 541.5 L73.0 540.0 L75.0 538.0 L78.0 532.5 L80.5 530.2 L86.5 530.2 L90.0 528.0 L93.0 526.5 L96.5 522.0 L100.0 517.5 L103.0 515.8 L106.0 515.3 L116.0 515.3 L119.0 513.6 L126.0 509.4 L133.0 507.4 L139.0 501.4 L145.0 502.0 L152.0 500.6 L159.0 501.4 L164.6 502.0 L171.0 508.0 L178.0 513.0 L185.0 519.0 L191.0 525.0 L197.0 528.0 L204.0 533.0 L210.0 536.4 L217.0 534.0 L223.0 530.0 L230.0 531.4 L237.0 529.4 L243.0 527.0 L250.0 531.4 L257.0 536.0 L263.0 535.6 L269.0 539.0 L276.0 540.6 L280.0 533.0 L285.0 519.0 L289.0 511.0 L295.0 508.6 L307.0 508.6 L311.0 514.0 L317.0 525.0 L322.0 532.0 L328.0 535.0 L335.0 535.4 L341.0 534.0 L348.0 536.6 L352.0 519.0 L356.0 503.0 L360.0 491.0 L366.0 483.0 L372.0 471.0 L378.0 457.0 L380.6 448.0 L383.0 458.0 L387.0 471.0 L394.0 479.0 L400.0 487.0 L406.0 496.0 L412.0 509.0 L418.0 519.0 L424.0 526.0 L430.0 529.0 L436.0 531.0 L444.0 533.4 L450.0 536.6 L459.0 542.0 L466.0 536.0 L472.0 532.0 L480.0 531.0 L490.0 528.4 L496.0 533.4 L502.0 536.0 L510.0 539.0 L518.0 539.0 L526.0 536.6 L532.0 535.0 L538.0 529.4 L544.0 528.0 L550.0 521.0 L556.0 518.0 L564.0 516.6 L570.0 515.0 L577.0 515.0 L583.0 520.0 L589.0 511.4 L595.0 510.0 L602.0 516.0 L608.0 515.6 L616.0 517.4 L623.0 529.4 L630.0 534.0 L637.5 534.0 L645.0 532.5 L651.0 531.0 L659.0 532.0 L665.0 528.0 L672.5 531.0 L680.0 531.0 L686.0 528.0 L692.5 526.0 L700.0 522.5 L707.5 517.0 L714.0 516.0" stroke="#a040ff" stroke-width="1" fill="none" stroke-linejoin="round"/>
<rect x="60.5" y="31.5" width="660" height="317" fill="none" stroke="#808080" stroke-width="1"/>
<rect x="60.5" y="358.5" width="660" height="211" fill="none" stroke="#808080" stroke-width="1"/>
<text x="8" y="22.5" font-family="&quot;Liberation Sans&quot;,sans-serif" font-size="18" letter-spacing="1" fill="#909090">600817</text>
<text x="77.5" y="20.5" font-family="&quot;Liberation Serif&quot;,&quot;Noto Serif CJK SC&quot;,serif" font-size="16" fill="#000">宇通重工</text>
<text x="394 402 410.96 418 426 434 442.25 450 458.96 466 474 482 491.34 498.25 506 514.96 522 530 538.25 547.34" y="20" font-family="&quot;Liberation Serif&quot;,serif" font-size="16" fill="#cc0000" stroke="#cc0000" stroke-width="0.12">12.49 <tspan textLength="7.5" lengthAdjust="spacingAndGlyphs">+</tspan>0.18 (<tspan textLength="7.5" lengthAdjust="spacingAndGlyphs">+</tspan>1.46<tspan textLength="7.5" lengthAdjust="spacingAndGlyphs">%</tspan>)</text>
<text x="66.25 72.25 78 85.33 90 96 102.72 108 114" y="43" font-family="&quot;Liberation Serif&quot;,serif" font-size="12" fill="#0046a0" stroke="#0046a0" stroke-width="0.30"><tspan textLength="5.5" lengthAdjust="spacingAndGlyphs">M</tspan><tspan textLength="5.5" lengthAdjust="spacingAndGlyphs">A</tspan>5:13.76</text>
<text x="284.25 290.25 296 302 309.33 314 320 326.72 332 338" y="43" font-family="&quot;Liberation Serif&quot;,serif" font-size="12" fill="#a040ff" stroke="#a040ff" stroke-width="0.30"><tspan textLength="5.5" lengthAdjust="spacingAndGlyphs">M</tspan><tspan textLength="5.5" lengthAdjust="spacingAndGlyphs">A</tspan>10:13.71</text>
<text x="503.25 509.25 515 521 528.33 533 539 545.72 551 557" y="43" font-family="&quot;Liberation Serif&quot;,serif" font-size="12" fill="#c8c800" stroke="#c8c800" stroke-width="0.30"><tspan textLength="5.5" lengthAdjust="spacingAndGlyphs">M</tspan><tspan textLength="5.5" lengthAdjust="spacingAndGlyphs">A</tspan>30:14.05</text>
<text x="66.25 72.25 78.25 84.25 90.25 96 103.33 108 114 120 126 132" y="370" font-family="&quot;Liberation Serif&quot;,serif" font-size="12" fill="#a040ff" stroke="#a040ff" stroke-width="0.30"><tspan textLength="5.5" lengthAdjust="spacingAndGlyphs">M</tspan><tspan textLength="5.5" lengthAdjust="spacingAndGlyphs">A</tspan><tspan textLength="5.5" lengthAdjust="spacingAndGlyphs">V</tspan><tspan textLength="5.5" lengthAdjust="spacingAndGlyphs">O</tspan><tspan textLength="5.5" lengthAdjust="spacingAndGlyphs">L</tspan>5:16194</text>
<text x="394.25 400.25 406.25 412.25 418.25 424 430 437.33 442 448 454 460 466" y="370" font-family="&quot;Liberation Serif&quot;,serif" font-size="12" fill="#c8c800" stroke="#c8c800" stroke-width="0.30"><tspan textLength="5.5" lengthAdjust="spacingAndGlyphs">M</tspan><tspan textLength="5.5" lengthAdjust="spacingAndGlyphs">A</tspan><tspan textLength="5.5" lengthAdjust="spacingAndGlyphs">V</tspan><tspan textLength="5.5" lengthAdjust="spacingAndGlyphs">O</tspan><tspan textLength="5.5" lengthAdjust="spacingAndGlyphs">L</tspan>10:13344</text>
<text x="12.25 18 24 30.72 36 42.25" y="72" font-family="&quot;Liberation Serif&quot;,serif" font-size="12" fill="#cc0000" stroke="#cc0000" stroke-width="0.30"><tspan textLength="5.5" lengthAdjust="spacingAndGlyphs">+</tspan>20.0<tspan textLength="5.5" lengthAdjust="spacingAndGlyphs">%</tspan></text>
<text x="722 728 734.72 740 746" y="72" font-family="&quot;Liberation Serif&quot;,serif" font-size="12" fill="#cc0000" stroke="#cc0000" stroke-width="0.30">17.45</text>
<text x="12.25 18 24 30.72 36 42.25" y="115" font-family="&quot;Liberation Serif&quot;,serif" font-size="12" fill="#cc0000" stroke="#cc0000" stroke-width="0.30"><tspan textLength="5.5" lengthAdjust="spacingAndGlyphs">+</tspan>15.0<tspan textLength="5.5" lengthAdjust="spacingAndGlyphs">%</tspan></text>
<text x="722 728 734.72 740 746" y="115" font-family="&quot;Liberation Serif&quot;,serif" font-size="12" fill="#cc0000" stroke="#cc0000" stroke-width="0.30">16.72</text>
<text x="12.25 18 24 30.72 36 42.25" y="159" font-family="&quot;Liberation Serif&quot;,serif" font-size="12" fill="#cc0000" stroke="#cc0000" stroke-width="0.30"><tspan textLength="5.5" lengthAdjust="spacingAndGlyphs">+</tspan>10.0<tspan textLength="5.5" lengthAdjust="spacingAndGlyphs">%</tspan></text>
<text x="722 728 734.72 740 746" y="159" font-family="&quot;Liberation Serif&quot;,serif" font-size="12" fill="#cc0000" stroke="#cc0000" stroke-width="0.30">15.99</text>
<text x="12.25 18 24.72 30 36.25" y="203" font-family="&quot;Liberation Serif&quot;,serif" font-size="12" fill="#cc0000" stroke="#cc0000" stroke-width="0.30"><tspan textLength="5.5" lengthAdjust="spacingAndGlyphs">+</tspan>5.0<tspan textLength="5.5" lengthAdjust="spacingAndGlyphs">%</tspan></text>
<text x="722 728 734.72 740 746" y="203" font-family="&quot;Liberation Serif&quot;,serif" font-size="12" fill="#cc0000" stroke="#cc0000" stroke-width="0.30">15.27</text>
<text x="12.25 18 24.72 30 36.25" y="246" font-family="&quot;Liberation Serif&quot;,serif" font-size="12" fill="#000" stroke="#000" stroke-width="0.30"><tspan textLength="5.5" lengthAdjust="spacingAndGlyphs">+</tspan>0.0<tspan textLength="5.5" lengthAdjust="spacingAndGlyphs">%</tspan></text>
<text x="722 728 734.72 740 746" y="246" font-family="&quot;Liberation Serif&quot;,serif" font-size="12" fill="#000" stroke="#000" stroke-width="0.30">14.54</text>
<text x="12.6 18 24.72 30 36.25" y="290" font-family="&quot;Liberation Serif&quot;,serif" font-size="12" fill="#008800" stroke="#008800" stroke-width="0.30"><tspan textLength="4.80" lengthAdjust="spacingAndGlyphs">-</tspan>5.0<tspan textLength="5.5" lengthAdjust="spacingAndGlyphs">%</tspan></text>
<text x="722 728 734.72 740 746" y="290" font-family="&quot;Liberation Serif&quot;,serif" font-size="12" fill="#008800" stroke="#008800" stroke-width="0.30">13.81</text>
<text x="12.6 18 24 30.72 36 42.25" y="334" font-family="&quot;Liberation Serif&quot;,serif" font-size="12" fill="#008800" stroke="#008800" stroke-width="0.30"><tspan textLength="4.80" lengthAdjust="spacingAndGlyphs">-</tspan>10.0<tspan textLength="5.5" lengthAdjust="spacingAndGlyphs">%</tspan></text>
<text x="722 728 734.72 740 746" y="334" font-family="&quot;Liberation Serif&quot;,serif" font-size="12" fill="#008800" stroke="#008800" stroke-width="0.30">13.09</text>
<text x="724.5" y="374" font-family="&quot;Liberation Sans&quot;,sans-serif" font-size="10.5" fill="#000">70000</text>
<text x="724.5" y="401" font-family="&quot;Liberation Sans&quot;,sans-serif" font-size="10.5" fill="#000">60000</text>
<text x="724.5" y="428" font-family="&quot;Liberation Sans&quot;,sans-serif" font-size="10.5" fill="#000">50000</text>
<text x="724.5" y="455" font-family="&quot;Liberation Sans&quot;,sans-serif" font-size="10.5" fill="#000">40000</text>
<text x="724.5" y="482" font-family="&quot;Liberation Sans&quot;,sans-serif" font-size="10.5" fill="#000">30000</text>
<text x="724.5" y="509" font-family="&quot;Liberation Sans&quot;,sans-serif" font-size="10.5" fill="#000">20000</text>
<text x="724.5" y="536" font-family="&quot;Liberation Sans&quot;,sans-serif" font-size="10.5" fill="#000">10000</text>
<text x="123.1 129" y="582" font-family="&quot;Liberation Serif&quot;,&quot;Noto Sans CJK SC&quot;,sans-serif" font-size="12" fill="#000"><tspan font-size="11.5" dy="-0.8" stroke="#000" stroke-width="0.29">3</tspan><tspan dy="0.8">月</tspan></text>
<text x="273.1 279" y="582" font-family="&quot;Liberation Serif&quot;,&quot;Noto Sans CJK SC&quot;,sans-serif" font-size="12" fill="#000"><tspan font-size="11.5" dy="-0.8" stroke="#000" stroke-width="0.29">4</tspan><tspan dy="0.8">月</tspan></text>
<text x="410.1 416" y="582" font-family="&quot;Liberation Serif&quot;,&quot;Noto Sans CJK SC&quot;,sans-serif" font-size="12" fill="#000"><tspan font-size="11.5" dy="-0.8" stroke="#000" stroke-width="0.29">5</tspan><tspan dy="0.8">月</tspan></text>
<text x="528.1 534" y="582" font-family="&quot;Liberation Serif&quot;,&quot;Noto Sans CJK SC&quot;,sans-serif" font-size="12" fill="#000"><tspan font-size="11.5" dy="-0.8" stroke="#000" stroke-width="0.29">6</tspan><tspan dy="0.8">月</tspan></text>
<text x="665.1 671" y="582" font-family="&quot;Liberation Serif&quot;,&quot;Noto Sans CJK SC&quot;,sans-serif" font-size="12" fill="#000"><tspan font-size="11.5" dy="-0.8" stroke="#000" stroke-width="0.29">7</tspan><tspan dy="0.8">月</tspan></text>
<text x="335 345 355 365 376 385 395 406 415 425" y="241" font-family="&quot;Liberation Serif&quot;,serif" font-size="20" fill="#ff0000" stroke="#ff0000" stroke-width="0.00">2021<tspan textLength="8.00" lengthAdjust="spacingAndGlyphs">-</tspan>04<tspan textLength="8.00" lengthAdjust="spacingAndGlyphs">-</tspan>26</text>
</svg>
<div id="b"></div>
</div></body></html>
